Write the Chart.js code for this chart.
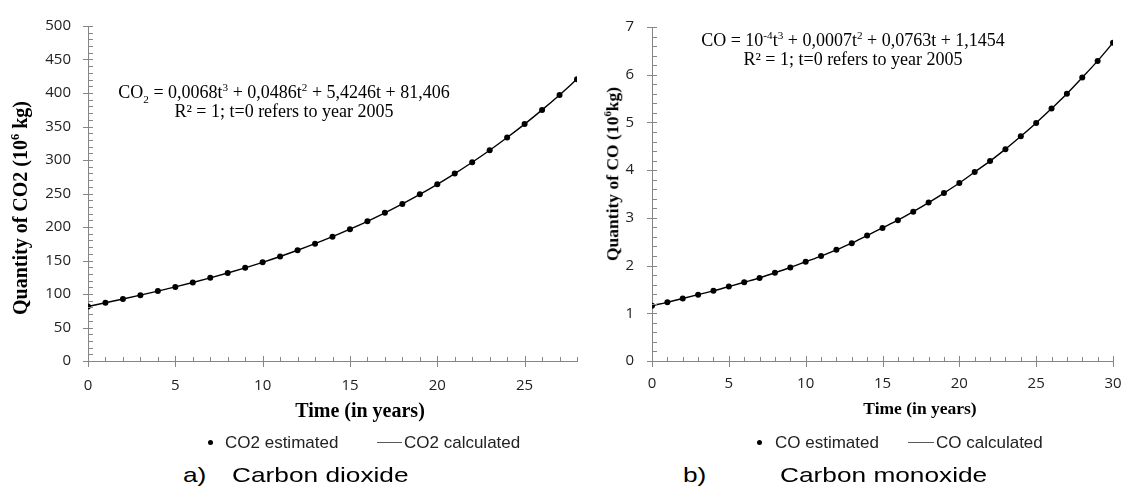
<!DOCTYPE html>
<html>
<head>
<meta charset="utf-8">
<script src="https://cdn.jsdelivr.net/npm/chart.js@4"></script>
<style>
  body { margin: 0; background: #fff; }
  #page { position: relative; width: 1125px; height: 489px; overflow: hidden; }
  .chart-box { position: absolute; top: 0; height: 400px; }
  .serif { position: absolute; font-family: "Liberation Serif", "Times New Roman", serif; color: #000; white-space: nowrap; }
  .bold { font-weight: bold; }
  .sans { position: absolute; font-family: "Liberation Sans", Arial, sans-serif; color: #222; white-space: nowrap; }
  sup, sub { line-height: 0; font-size: 0.62em; }
  .eq { text-align: center; font-size: 18px; line-height: 19px; transform: translateX(-50%); }
  .ytitle { transform: translate(-50%, -50%) rotate(-90deg); line-height: 1; }
  .xtitle { transform: translate(-50%, -50%); line-height: 1; }
  .dot { position: absolute; width: 5px; height: 5px; border-radius: 50%; background: #000; }
  .lgline { position: absolute; height: 1px; background: #595959; }
  .legend-text { font-size: 17px; line-height: 17px; top: 434px; }
  .caption { font-size: 21px; line-height: 21px; top: 464px; color: #000; transform: scaleX(1.25); transform-origin: left center; }
</style>
</head>
<body>
<div id="page">
  <div class="chart-box" style="left:0;width:600px;"><canvas id="co2Chart"></canvas></div>
  <div class="chart-box" style="left:600px;width:545px;"><canvas id="coChart"></canvas></div>

  <!-- left chart texts -->
  <div class="serif bold ytitle" style="left:20px;top:208px;font-size:20px;">Quantity of CO2 (10<sup>6</sup> kg)</div>
  <div class="serif bold xtitle" style="left:360px;top:410px;font-size:20px;">Time (in years)</div>
  <div class="serif eq" style="left:284px;top:83px;">CO<sub>2</sub> = 0,0068t<sup>3</sup> + 0,0486t<sup>2</sup> + 5,4246t + 81,406<br>R² = 1; t=0 refers to year 2005</div>
  <div class="dot" style="left:207.5px;top:440px;"></div>
  <div class="sans legend-text" style="left:225px;">CO2 estimated</div>
  <div class="lgline" style="left:377px;top:442px;width:25px;"></div>
  <div class="sans legend-text" style="left:404px;">CO2 calculated</div>
  <div class="sans caption" style="left:183px;">a)</div>
  <div class="sans caption" style="left:232px;">Carbon dioxide</div>

  <!-- right chart texts -->
  <div class="serif bold ytitle" style="left:613px;top:174px;font-size:17.5px;">Quantity of CO (10<sup>6</sup>kg)</div>
  <div class="serif bold xtitle" style="left:920px;top:409px;font-size:17.5px;">Time (in years)</div>
  <div class="serif eq" style="left:853px;top:31px;">CO = 10<sup>-4</sup>t<sup>3</sup> + 0,0007t<sup>2</sup> + 0,0763t + 1,1454<br>R² = 1; t=0 refers to year 2005</div>
  <div class="dot" style="left:756.5px;top:439.5px;"></div>
  <div class="sans legend-text" style="left:775px;">CO estimated</div>
  <div class="lgline" style="left:908px;top:442px;width:26px;"></div>
  <div class="sans legend-text" style="left:936px;">CO calculated</div>
  <div class="sans caption" style="left:683px;">b)</div>
  <div class="sans caption" style="left:780px;">Carbon monoxide</div>
</div>

<script>
// values, t = 0 is year 2005
const co2Years = [0, 1, 2, 3, 4, 5, 6, 7, 8, 9, 10, 11, 12, 13, 14, 15, 16, 17, 18, 19, 20, 21, 22, 23, 24, 25, 26, 27, 28];
const co2Estimated = [81.4, 86.9, 92.5, 98.3, 104.3, 110.6, 117.2, 124.1, 131.4, 139.1, 147.3, 156.0, 165.3, 175.1, 185.5, 196.7, 208.5, 221.1, 234.5, 248.7, 263.7, 279.7, 296.7, 314.6, 333.6, 353.6, 374.8, 397.1, 420.7];
const co2Calculated = [81.4, 86.9, 92.5, 98.3, 104.3, 110.6, 117.2, 124.1, 131.4, 139.1, 147.3, 156.0, 165.3, 175.1, 185.5, 196.7, 208.5, 221.1, 234.5, 248.7, 263.7, 279.7, 296.7, 314.6, 333.6, 353.6, 374.8, 397.1, 420.7];

const coYears = [0, 1, 2, 3, 4, 5, 6, 7, 8, 9, 10, 11, 12, 13, 14, 15, 16, 17, 18, 19, 20, 21, 22, 23, 24, 25, 26, 27, 28, 29, 30];
const coEstimated = [1.16, 1.23, 1.31, 1.39, 1.47, 1.56, 1.65, 1.74, 1.85, 1.96, 2.08, 2.20, 2.33, 2.47, 2.63, 2.79, 2.95, 3.13, 3.32, 3.52, 3.73, 3.96, 4.19, 4.44, 4.71, 4.99, 5.29, 5.60, 5.94, 6.29, 6.67];
const coCalculated = [1.16, 1.23, 1.31, 1.39, 1.47, 1.56, 1.65, 1.74, 1.85, 1.96, 2.08, 2.20, 2.33, 2.47, 2.63, 2.79, 2.95, 3.13, 3.32, 3.52, 3.73, 3.96, 4.19, 4.44, 4.71, 4.99, 5.29, 5.60, 5.94, 6.29, 6.67];

const axisColor = "#868686";
const tickFont = { family: "'Open Sans', sans-serif", size: 15 };

// excel style ticks: majors cross the axis, minors sit inside
const axisTicks = {
  id: "axisTicks",
  afterDraw(chart, args, opts) {
    const ctx = chart.ctx;
    const x = chart.scales.x;
    const y = chart.scales.y;
    const isMajor = (v, step) => Math.abs(v / step - Math.round(v / step)) < 1e-6;
    ctx.save();
    ctx.strokeStyle = axisColor;
    ctx.lineWidth = 1;
    ctx.beginPath();
    for (let i = 0; x.min + i * opts.xMinor <= x.max + 1e-9; i++) {
      const v = x.min + i * opts.xMinor;
      const px = Math.round(x.getPixelForValue(v)) + 0.5;
      ctx.moveTo(px, y.bottom - (isMajor(v, opts.xMajor) ? 5 : 4));
      ctx.lineTo(px, y.bottom + (isMajor(v, opts.xMajor) ? 6 : 0));
    }
    for (let i = 0; y.min + i * opts.yMinor <= y.max + 1e-9; i++) {
      const v = y.min + i * opts.yMinor;
      const py = Math.round(y.getPixelForValue(v)) + 0.5;
      ctx.moveTo(x.left - (isMajor(v, opts.yMajor) ? 5 : 0), py);
      ctx.lineTo(x.left + 5, py);
    }
    ctx.stroke();
    ctx.restore();
  },
};

function buildChart(canvasId, years, estimated, calculated, cfg) {
  const ctx = document.getElementById(canvasId).getContext("2d");
  return new Chart(ctx, {
    type: "line",
    data: {
      datasets: [
        {
          label: cfg.name + " estimated",
          data: years.map((t, i) => ({ x: t, y: estimated[i] })),
          showLine: false,
          pointRadius: 3,
          pointBackgroundColor: "#000",
          pointBorderWidth: 0,
        },
        {
          label: cfg.name + " calculated",
          data: years.map((t, i) => ({ x: t, y: calculated[i] })),
          borderColor: "#000",
          borderWidth: 1.4,
          pointRadius: 0,
          cubicInterpolationMode: "monotone",
          fill: false,
        },
      ],
    },
    options: {
      responsive: true,
      maintainAspectRatio: false,
      animation: false,
      layout: { padding: { left: 0, top: 16, right: cfg.padRight, bottom: 0 } },
      plugins: {
        legend: { display: false },
        tooltip: { enabled: false },
        axisTicks: cfg.ticks,
      },
      scales: {
        x: {
          type: "linear",
          min: 0,
          max: cfg.xMax,
          grid: { display: false, drawTicks: false },
          border: { color: axisColor },
          ticks: {
            stepSize: 5,
            includeBounds: false,
            padding: cfg.xPad,
            color: "#222",
            font: tickFont,
            maxRotation: 0,
            callback: (v) => (v % 5 === 0 ? v : ""),
          },
          afterFit: (s) => { s.height = 39; },
        },
        y: {
          min: 0,
          max: cfg.yMax,
          grid: { display: false, drawTicks: false },
          border: { color: axisColor },
          ticks: { stepSize: cfg.yStep, padding: cfg.yPad, color: "#222", font: tickFont },
          afterFit: (s) => { s.width = cfg.yWidth; },
        },
      },
    },
    plugins: [axisTicks],
  });
}

buildChart("co2Chart", co2Years, co2Estimated, co2Calculated, {
  name: "CO2",
  xMax: 28,
  yMax: 500,
  yStep: 50,
  yWidth: 88,
  padRight: 23,
  xPad: 16,
  yPad: 17,
  ticks: { xMinor: 1, xMajor: 5, yMinor: 10, yMajor: 50 },
});

// canvas runs past the page edge so the "30" label does not squeeze the plot
buildChart("coChart", coYears, coEstimated, coCalculated, {
  name: "CO",
  xMax: 30,
  yMax: 7,
  yStep: 1,
  yWidth: 52,
  padRight: 32,
  xPad: 14,
  yPad: 18,
  ticks: { xMinor: 1, xMajor: 5, yMinor: 0.2, yMajor: 1 },
});
</script>
</body>
</html>
